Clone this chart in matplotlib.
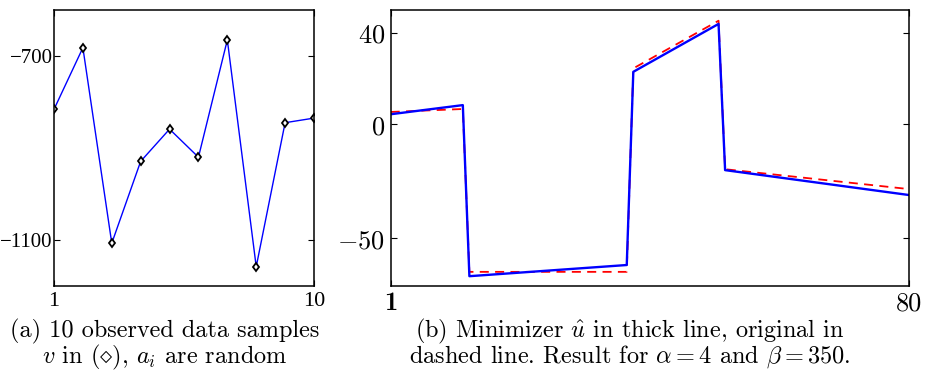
import numpy as np
import matplotlib
matplotlib.use("Agg")
import matplotlib.pyplot as plt

plt.rcParams['mathtext.fontset'] = 'cm'
plt.rcParams['axes.unicode_minus'] = False

# (a) observed samples
a_x = np.arange(1, 11)
a_v = [-816, -682, -1107, -929, -859, -920, -665, -1158, -845, -835]

# (b) minimizer (thick) and original (dashed), breakpoints
b_x_hat = [1, 12, 13, 37, 38, 51, 52, 80]
b_u_hat = [4.3, 8.3, -66.7, -61.8, 22.9, 43.9, -20.2, -31.1]
b_x_orig = [1, 12, 13, 37, 38, 51, 52, 80]
b_u_orig = [5.3, 6.6, -64.8, -64.8, 24.4, 45.3, -19.8, -28.5]

cap_a = ["(a) 10 observed data samples", r"$v$ in $(\diamond)$, $a_i$ are random"]
cap_b = [r"(b) Minimizer $\hat{u}$ in thick line, original in",
         r"dashed line. Result for $\alpha = 4$ and $\beta = 350$."]

fig = plt.figure(figsize=(9.27, 3.72), dpi=100)
ax1 = fig.add_axes([54 / 927, 86 / 372, 260 / 927, 276 / 372])
ax2 = fig.add_axes([390.7 / 927, 86 / 372, 518 / 927, 276 / 372])

for ax in (ax1, ax2):
    for s in ax.spines.values():
        s.set_linewidth(1.1)
    ax.tick_params(direction='in', length=4, width=0.8, right=True, top=True)

ax1.plot(a_x, a_v, color='#0000ff', lw=1.0, marker='d', ms=4.5,
         mfc='white', mec='black', mew=1.3)
ax1.set_xlim(1, 10)
ax1.set_ylim(-1200, -600)
ax1.set_xticks([1, 10])
ax1.set_yticks([-700, -1100])
ax1.set_xticklabels(['1', '10'], fontfamily='Liberation Serif', fontsize=16)
ax1.set_yticklabels(['\u2212700', '\u22121100'], fontfamily='Liberation Serif', fontsize=15)
ax1.tick_params(axis='y', pad=1)
ax1.tick_params(axis='x', pad=4)

ax2.plot(b_x_orig, b_u_orig, color='red', lw=1.3, ls=(0, (5, 3.5)))
ax2.plot(b_x_hat, b_u_hat, color='#0000ff', lw=1.7)
ax2.set_xlim(1, 80)
ax2.set_ylim(-71, 50)
ax2.set_xticks([1, 80])
ax2.set_yticks([40, 0, -50])
ax2.set_yticklabels([r'$40$', r'$0$', r'$-50$'], fontsize=19)
xl = ax2.set_xticklabels(['1', '80'], fontsize=19)
xl[0].set_fontfamily('cmb10')
xl[1].set_fontfamily('cmr10')
ax2.tick_params(axis='y', pad=4)
ax2.tick_params(axis='x', pad=4)

for i, y in enumerate([0.094, 0.024]):
    fig.text(165 / 927, y, cap_a[i], ha='center', va='baseline',
             fontfamily='cmr10', fontsize=17.5)
    fig.text(630 / 927, y, cap_b[i], ha='center', va='baseline',
             fontfamily='cmr10', fontsize=17.5)

fig.savefig('out.png', dpi=100)
